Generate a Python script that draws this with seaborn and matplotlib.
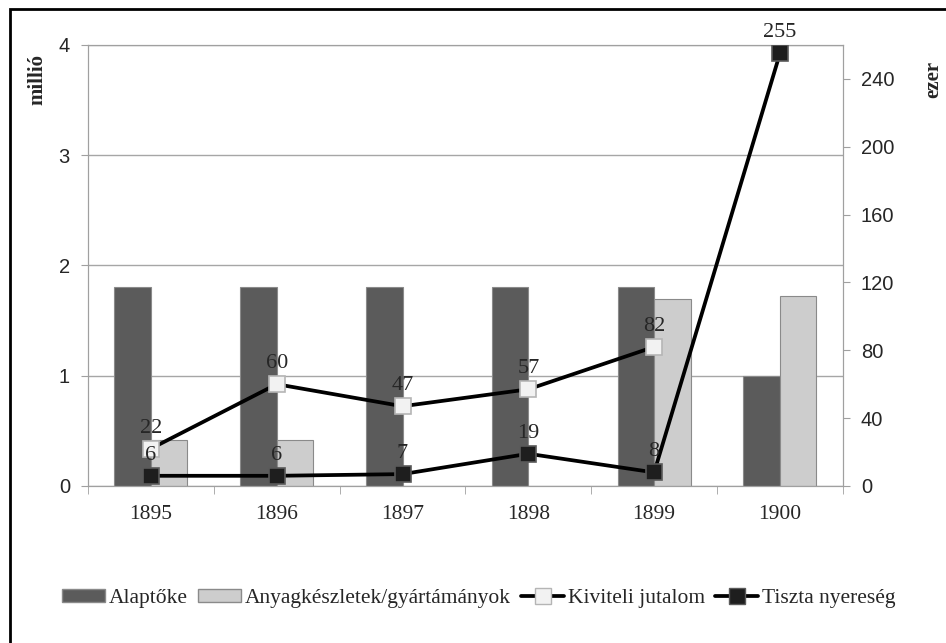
import pandas as pd
import seaborn as sns
from matplotlib import pyplot as plt
from matplotlib.patches import Patch, Rectangle
from matplotlib.lines import Line2D

YEARS = ['1895', '1896', '1897', '1898', '1899', '1900']

# left axis (millió)
alaptoke = [1.8, 1.8, 1.8, 1.8, 1.8, 1.0]
anyag_years = ['1895', '1896', '1899', '1900']
anyag = [0.42, 0.42, 1.70, 1.72]

# right axis (ezer)
kiviteli_years = ['1895', '1896', '1897', '1898', '1899']
kiviteli = [22, 60, 47, 57, 82]
tiszta = [6, 6, 7, 19, 8, 255]

BAR_NAMES = ['Alaptőke', 'Anyagkészletek/gyártámányok']
LINE_NAMES = ['Kiviteli jutalom', 'Tiszta nyereség']

sns.set_style('white')
plt.rcParams['font.family'] = ['Liberation Serif', 'DejaVu Serif']

bars = pd.concat([
    pd.DataFrame({'year': YEARS, 'value': alaptoke, 'series': BAR_NAMES[0]}),
    pd.DataFrame({'year': anyag_years, 'value': anyag, 'series': BAR_NAMES[1]}),
])

fig = plt.figure(figsize=(9.46, 6.43), dpi=100)
ax = fig.add_axes([0.093, 0.2442, 0.798, 0.686])

sns.barplot(data=bars, x='year', y='value', hue='series', order=YEARS,
            hue_order=BAR_NAMES, palette=['#5b5b5b', '#cdcdcd'],
            width=0.58, saturation=1, edgecolor='#8a8a8a', linewidth=0.8,
            legend=False, ax=ax, zorder=2)

ax.set_xlim(-0.5, 5.5)
ax.set_ylim(0, 4)
ax.set_yticks([0, 1, 2, 3, 4])
ax.yaxis.grid(True, color='#a6a6a6', linewidth=1)
ax.set_axisbelow(True)
ax.set_xlabel('')
ax.set_ylabel('')
for sp in ax.spines.values():
    sp.set_color('#a0a0a0')
ax.tick_params(axis='x', length=0, labelsize=15.5, pad=14)
ax.set_xticks([i - 0.5 for i in range(7)], minor=True)
ax.tick_params(axis='x', which='minor', length=6, color='#a0a0a0', direction='out', bottom=True)
ax.tick_params(axis='y', length=5, color='#a0a0a0', left=True, labelsize=14.5, pad=8)
for lab in ax.get_yticklabels():
    lab.set_family('Liberation Sans')

ax2 = ax.twinx()
kx = [YEARS.index(y) for y in kiviteli_years]
tx = list(range(len(YEARS)))

sns.lineplot(x=kx, y=kiviteli, ax=ax2, color='black', linewidth=2.7,
             marker='s', markersize=11, markerfacecolor='#f2f2f2',
             markeredgecolor='#b5b5b5', markeredgewidth=1.2, zorder=4)
sns.lineplot(x=tx, y=tiszta, ax=ax2, color='black', linewidth=2.7,
             marker='s', markersize=11, markerfacecolor='#1e1e1e',
             markeredgecolor='#5a5a5a', markeredgewidth=1.2, zorder=5)

for x, v in zip(kx, kiviteli):
    ax2.annotate(str(v), (x, v), xytext=(0, 8), textcoords='offset points',
                 ha='center', va='bottom', fontsize=16, zorder=10)
for x, v in zip(tx, tiszta):
    ax2.annotate(str(v), (x, v), xytext=(0, 8), textcoords='offset points',
                 ha='center', va='bottom', fontsize=16, zorder=10)

ax2.set_ylim(0, 260)
ax2.set_yticks(range(0, 241, 40))
ax2.set_xlim(-0.5, 5.5)
for sp in ax2.spines.values():
    sp.set_color('#a0a0a0')
ax2.tick_params(axis='y', length=5, color='#a0a0a0', right=True, labelsize=14.5, pad=8)
for lab in ax2.get_yticklabels():
    lab.set_family('Liberation Sans')

fig.text(0.040, 0.877, 'millió', rotation=90, ha='center', va='center',
         fontsize=15, fontweight='bold')
fig.text(0.986, 0.877, 'ezer', rotation=90, ha='center', va='center',
         fontsize=15, fontweight='bold')

handles = [
    Patch(facecolor='#5b5b5b', edgecolor='#8a8a8a'),
    Patch(facecolor='#cdcdcd', edgecolor='#8a8a8a'),
    Line2D([], [], color='black', linewidth=2.7, marker='s', markersize=11,
           markerfacecolor='#f2f2f2', markeredgecolor='#b5b5b5'),
    Line2D([], [], color='black', linewidth=2.7, marker='s', markersize=11,
           markerfacecolor='#1e1e1e', markeredgecolor='#5a5a5a'),
]
fig.legend(handles, BAR_NAMES + LINE_NAMES, loc='center', ncol=4,
           bbox_to_anchor=(0.506, 0.069), frameon=False, fontsize=15.5,
           handlelength=2.0, handleheight=0.5, handletextpad=0.15,
           columnspacing=0.5)

fig.patches.append(Rectangle((0.0105, -0.1), 1.2, 1.086,
                             transform=fig.transFigure, fill=False,
                             edgecolor='black', linewidth=2))

fig.savefig('out.png', dpi=100)
